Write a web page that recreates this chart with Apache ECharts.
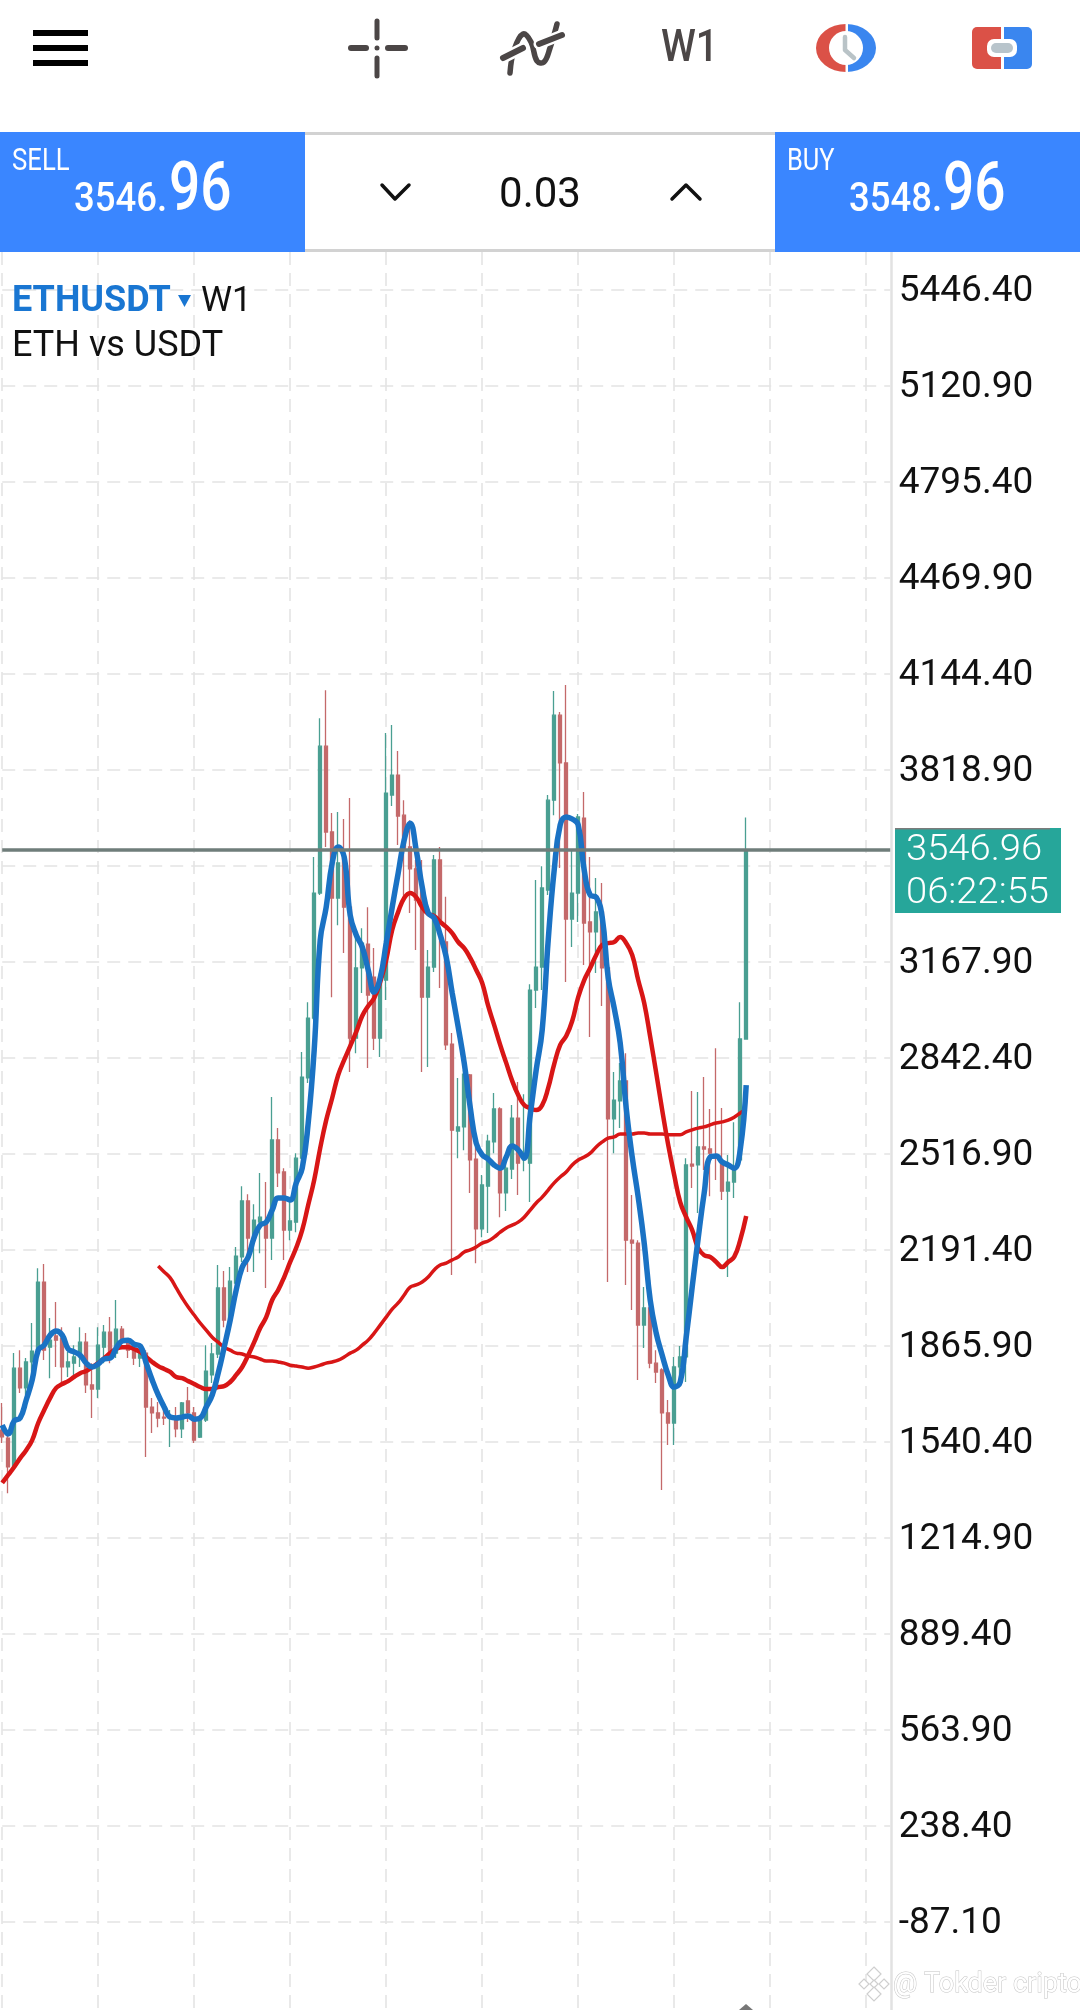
<!DOCTYPE html>
<html>
<head>
<meta charset="utf-8">
<style>html,body{margin:0;padding:0;background:#fff}#c{width:1080px;height:2010px}</style>
<script src="https://cdn.jsdelivr.net/npm/echarts@6/dist/echarts.min.js"></script>
</head>
<body>
<div id="c"></div>
<script>
const opens = [
1579,1552,1454,1789,1722,1810,1850,2081,1860,1898,
1891,1793,1806,1827,1877,1732,1718,1860,1911,1840,
1921,1884,1850,1823,1840,1657,1637,1623,1620,1623,
1583,1678,1637,1555,1613,1766,1837,2061,1952,2077,
2166,2356,2230,2284,2281,2230,2563,2454,2257,2284,
2501,2773,2976,3400,3898,3607,3383,3519,3352,2908,
3146,3227,3115,2908,3105,3732,3800,3664,3556,3482,
3420,3047,3149,3512,3234,2888,2593,2607,2783,2498,
2261,2406,2556,2668,2383,2464,2637,2495,2484,3071,
3149,3410,3715,4003,3841,3312,3400,3654,3302,3268,
3336,3146,2634,2695,2763,2223,2213,1935,1993,1806,
1783,1637,1603,1793,1827,2481,2478,2539,2532,2512,
2484,2389,2420,2495,2905];
const closes = [
1556,1454,1789,1722,1810,1847,2081,1850,1884,1884,
1793,1810,1827,1877,1732,1718,1867,1911,1823,1921,
1877,1850,1823,1840,1657,1637,1620,1620,1623,1583,
1671,1637,1545,1613,1779,1837,2061,1952,2084,2169,
2356,2230,2291,2301,2230,2563,2451,2257,2288,2501,
2776,2976,3400,3898,3607,3383,3502,3352,2908,3146,
3230,3054,2908,3105,3739,3800,3661,3546,3482,3376,
3047,3149,3512,3308,2885,2596,2607,2786,2495,2261,
2410,2559,2668,2383,2467,2637,2484,2505,3071,3149,
3417,3715,4003,3841,3312,3400,3658,3298,3268,3336,
3146,2634,2698,2763,2223,2213,1935,1993,1806,1776,
1637,1603,1793,1827,2478,2474,2539,2532,2518,2501,
2389,2420,2461,2905,3546.96];
const lows = [
1535,1365,1444,1705,1698,1749,1827,1817,1755,1793,
1739,1759,1759,1793,1705,1620,1688,1806,1806,1823,
1860,1823,1800,1793,1488,1569,1589,1596,1522,1555,
1552,1606,1535,1552,1606,1739,1823,1928,1918,2054,
2149,2115,2115,2179,2061,2156,2403,2156,2223,2250,
2471,2756,2969,3393,3556,3047,3291,3197,2793,2857,
3061,2807,2868,2844,3037,3695,3563,3376,3332,3207,
2793,2810,3132,3078,2868,2105,2501,2528,2383,2145,
2233,2247,2518,2301,2322,2430,2376,2457,2352,3010,
3071,3393,3664,3485,3098,3217,3302,3156,2912,3129,
3017,2081,2518,2603,2071,1986,1749,1857,1789,1739,
1376,1528,1528,1739,1742,2400,2315,2461,2372,2427,
2359,2098,2366,2490,2905];
const highs = [
1671,1569,1840,1850,1823,1942,2128,2142,1959,2013,
1928,1844,1867,1928,1908,1806,1928,1935,1962,2020,
1932,1891,1860,1874,1850,1688,1674,1657,1647,1657,
1674,1725,1657,1630,1867,1874,2139,2118,2132,2200,
2406,2379,2345,2451,2420,2708,2603,2467,2359,2518,
2861,3030,3522,3993,4088,3671,3675,3651,3722,3251,
3281,3352,3214,3129,3943,3970,3882,3715,3647,3512,
3512,3207,3529,3556,3387,2925,2773,2800,2786,2539,
2444,2580,2722,2674,2484,2681,2759,2718,3091,3444,
3491,3732,4085,4014,4105,3546,3668,3743,3522,3451,
3434,3153,2793,2824,2857,2376,2223,2064,2088,1850,
1789,1681,1827,1864,2501,2729,2725,2776,2668,2874,
2671,2512,2623,3030,3656];
const blueMA = [
1596,1566,1610,1620,1681,1749,1850,1867,1901,1915,
1901,1854,1844,1833,1806,1793,1803,1820,1823,1857,
1881,1884,1870,1864,1806,1749,1698,1657,1623,1620,
1623,1627,1616,1620,1657,1698,1772,1860,1952,2054,
2131,2166,2233,2274,2284,2325,2366,2366,2359,2417,
2467,2620,2868,3240,3352,3502,3556,3522,3325,3258,
3217,3139,3064,3112,3230,3352,3468,3580,3637,3546,
3420,3332,3315,3258,3183,3061,2946,2824,2674,2552,
2512,2498,2478,2467,2505,2542,2529,2501,2647,2800,
2936,3240,3478,3631,3658,3651,3631,3478,3393,3386,
3318,3112,3010,2891,2671,2505,2369,2213,2020,1908,
1833,1766,1725,1742,1894,2064,2230,2383,2505,2508,
2488,2478,2467,2529,2749];
const redMA = [
1400,1427,1454,1484,1511,1545,1603,1647,1688,1722,
1735,1745,1759,1772,1779,1793,1806,1823,1840,1854,
1860,1860,1854,1844,1827,1810,1796,1786,1776,1759,
1755,1745,1735,1725,1718,1718,1725,1728,1742,1766,
1793,1833,1877,1925,1962,2020,2054,2098,2149,2197,
2257,2342,2427,2535,2630,2705,2783,2834,2881,2929,
2983,3017,3044,3098,3173,3275,3336,3383,3400,3386,
3352,3329,3322,3302,3285,3264,3234,3213,3180,3139,
3095,3017,2952,2885,2824,2763,2715,2681,2671,2664,
2681,2739,2820,2885,2915,2966,3047,3105,3146,3190,
3224,3230,3234,3251,3230,3190,3105,3027,2912,2790,
2664,2546,2444,2352,2301,2257,2196,2172,2166,2149,
2132,2149,2166,2223,2305];
const longMA = [
null,null,null,null,null,null,null,null,null,null,
null,null,null,null,null,null,null,null,null,null,
null,null,null,null,null,null,2135,2115,2095,2061,
2027,1996,1969,1942,1918,1894,1877,1860,1850,1840,
1837,1830,1827,1820,1813,1813,1810,1806,1799,1796,
1793,1789,1793,1799,1806,1810,1816,1827,1840,1850,
1867,1884,1908,1935,1962,1989,2010,2037,2064,2071,
2081,2098,2122,2139,2145,2156,2166,2183,2190,2200,
2213,2220,2233,2250,2264,2274,2284,2301,2325,2349,
2369,2393,2417,2437,2454,2478,2495,2505,2518,2539,
2556,2569,2573,2583,2583,2583,2586,2586,2583,2583,
2583,2580,2580,2580,2590,2597,2603,2607,2614,2620,
2624,2630,2640,2654,2668];
const tickValues = [-87.1,238.4,563.9,889.4,1214.9,1540.4,1865.9,2191.4,2516.9,2842.4,3167.9,3493.4,3818.9,4144.4,4469.9,4795.4,5120.9,5446.4];
const lastPrice = 3546.96;
const askPrice = 3548.96;
const countdown = '06:22:55';
const lotSize = '0.03';
const symbol = 'ETHUSDT';
const timeframe = 'W1';
const description = 'ETH vs USDT';
const SLOTS = 149;

const UP = '#4a9f92', DOWN = '#c4696a', FONT = 'Roboto, sans-serif';
const weeks = Array.from({length: SLOTS}, (_, i) => 'W' + i);
const candles = opens.map((o, i) => [o, closes[i], lows[i], highs[i]]);
const TEXT_DY = 3;

function txt(text, x, y, size, fill, o) {
  o = o || {};
  return {type: 'text', z: 100, x, y: y + TEXT_DY, scaleX: o.sx || 1,
    style: {text, x: 0, y: 0, fill, textAlign: o.align || 'left', textVerticalAlign: 'middle',
      font: (o.w || 400) + ' ' + size + 'px ' + FONT, stroke: o.stroke, lineWidth: o.lw || 0}};
}
function rect(x, y, w, h, fill, r) {
  return {type: 'rect', z: 100, shape: {x, y, width: w, height: h, r: r || 0}, style: {fill}};
}
function seg(x1, y1, x2, y2, stroke, lw) {
  return {type: 'line', z: 100, shape: {x1, y1, x2, y2}, style: {stroke, lineWidth: lw, lineCap: 'round'}};
}
function poly(points, stroke, lw, smooth) {
  return {type: 'polyline', z: 100, shape: {points, smooth: smooth || 0}, style: {stroke, lineWidth: lw, fill: 'none', lineCap: 'round', lineJoin: 'round'}};
}
function diamond(cx, cy, r, stroke) {
  return {type: 'polygon', z: 100, shape: {points: [[cx, cy - r], [cx + r, cy], [cx, cy + r], [cx - r, cy]]}, style: {fill: '#fff', stroke, lineWidth: 1.2}};
}
const DARK = '#4b4646', RED = '#db5147', BLUE = '#3a86ef', PANEL = '#3a86ff';
function priceParts(v) { const s = v.toFixed(2).split('.'); return [s[0] + '.', s[1]]; }
const sell = priceParts(lastPrice), buy = priceParts(askPrice);

const graphics = [
  rect(33, 30, 55, 6, '#000'), rect(33, 45, 55, 6, '#000'), rect(33, 60, 55, 6, '#000'),
  seg(377, 21, 377, 38, DARK, 5), seg(377, 58, 377, 76, DARK, 5),
  seg(351, 48, 366, 48, DARK, 6), seg(388, 48, 405, 48, DARK, 6),
  {type: 'circle', z: 100, shape: {cx: 377, cy: 48, r: 2.5}, style: {fill: DARK}},
  poly([[510, 73], [514, 50], [523, 34], [531, 42], [537, 61], [544, 62], [550, 48], [557, 24]], DARK, 5.5, 0.4),
  seg(503, 58, 523, 48, '#fff', 11), seg(539, 44, 562, 35, '#fff', 11),
  seg(503, 58, 523, 48, DARK, 6), seg(539, 44, 562, 35, DARK, 6),
  txt(timeframe, 661, 47, 45, DARK, {sx: 0.88, w: 500}),
  {type: 'sector', z: 100, x: 846, y: 48, scaleY: 0.8, shape: {cx: 0, cy: 0, r: 30, r0: 0, startAngle: Math.PI / 2, endAngle: Math.PI * 1.5}, style: {fill: RED}},
  {type: 'sector', z: 100, x: 846, y: 48, scaleY: 0.8, shape: {cx: 0, cy: 0, r: 30, r0: 0, startAngle: -Math.PI / 2, endAngle: Math.PI / 2}, style: {fill: BLUE}},
  {type: 'circle', z: 100, shape: {cx: 846, cy: 48, r: 17}, style: {fill: '#fff'}},
  rect(845.5, 22, 2.5, 52, '#fff'),
  poly([[845, 37], [845, 50], [854, 58]], '#b9c3c7', 4.5),
  rect(972, 27, 29, 42, RED, [5, 0, 0, 5]), rect(1004, 27, 28, 42, BLUE, [0, 5, 5, 0]),
  rect(987, 39, 30, 18, '#fff', 7), rect(991, 43, 22, 10, '#b8c4cb', 5),
  rect(305, 132, 470, 120, '#fff'),
  rect(305, 132, 470, 3, '#d2d2d2'), rect(305, 249, 470, 3, '#d2d2d2'),
  rect(0, 132, 305, 120, PANEL), rect(775, 132, 305, 120, PANEL),
  txt('SELL', 12, 159, 31, '#fff', {sx: 0.83}),
  txt(sell[0], 74, 198, 41, '#fff', {sx: 0.89, w: 500}),
  txt(sell[1], 169, 190, 68, '#fff', {sx: 0.81, w: 500}),
  txt('BUY', 787, 159, 31, '#fff', {sx: 0.82}),
  txt(buy[0], 849, 198, 41, '#fff', {sx: 0.89, w: 500}),
  txt(buy[1], 943, 190, 68, '#fff', {sx: 0.81, w: 500}),
  poly([[382, 185], [395, 199], [409, 185]], '#111', 3.5),
  txt(lotSize, 540, 193, 42, '#111', {align: 'center'}),
  poly([[672, 199], [686, 185], [700, 199]], '#111', 3.5),
  txt(symbol, 12, 299, 36, '#1976d2', {w: 700}),
  {type: 'polygon', z: 100, shape: {points: [[178, 295], [191, 295], [184.5, 307]]}, style: {fill: '#1976d2'}},
  txt(timeframe, 201, 299, 35, '#111'),
  txt(description, 12, 344, 36, '#111'),
  rect(895, 828, 166, 85, '#26a69a'),
  rect(895, 828, 155, 1.5, '#7b7b7b'),
  txt(lastPrice.toFixed(2), 906, 848, 36, '#fff', {sx: 1.06, w: 300}),
  txt(countdown, 906, 891, 36, '#fff', {sx: 1.06, w: 300}),
  {type: 'polygon', z: 100, shape: {points: [[739, 2010], [746, 2004], [753, 2010]]}, style: {fill: '#777'}},
  diamond(874, 1974, 7, '#cfcfcf'), diamond(864, 1984, 5, '#cfcfcf'), diamond(884, 1984, 5, '#cfcfcf'),
  diamond(874, 1984, 4, '#cfcfcf'), diamond(874, 1994, 7, '#cfcfcf'),
  txt('@ Tokder cripto', 893, 1982, 27, '#fff', {stroke: '#c4c4c4', lw: 1})
];

const chart = echarts.init(document.getElementById('c'), null, {renderer: 'canvas', width: 1080, height: 2010});
chart.setOption({
  animation: false,
  backgroundColor: '#fff',
  graphic: graphics,
  grid: {left: 2.2, width: 888, top: 252, height: 1758, containLabel: false},
  xAxis: {
    type: 'category', data: weeks, boundaryGap: false,
    axisLine: {show: false}, axisTick: {show: false}, axisLabel: {show: false},
    splitLine: {show: true, interval: 15, lineStyle: {color: '#e4e4e4', width: 1.6, type: [13, 8]}}
  },
  yAxis: {
    type: 'value', position: 'right', offset: 1.5, min: -387.4, max: 5573.6, scale: true,
    axisLine: {show: true, lineStyle: {color: '#e2e2e2', width: 2.5}},
    axisTick: {show: false, customValues: tickValues},
    axisLabel: {show: true, customValues: tickValues, align: 'left', margin: 7, color: '#111', fontFamily: FONT, fontSize: 37,
      verticalAlign: 'top', lineHeight: 5, formatter: v => v.toFixed(2), showMinLabel: true, showMaxLabel: true},
    splitLine: {show: true, lineStyle: {color: '#e4e4e4', width: 1.6, type: [13, 8]}}
  },
  series: [
    {
      type: 'candlestick', data: candles, barWidth: 3, clip: false,
      itemStyle: {color: UP, color0: DOWN, borderColor: UP, borderColor0: DOWN, borderWidth: 1.3},
      markLine: {
        silent: true, symbol: 'none', animation: false, label: {show: false},
        lineStyle: {color: '#6f7d7a', width: 3.5, type: 'solid'},
        data: [{yAxis: lastPrice}]
      },
      z: 2
    },
    {type: 'line', data: longMA, showSymbol: false, smooth: 0.45, connectNulls: false, clip: false, lineStyle: {color: '#d81616', width: 3.5}, z: 3},
    {type: 'line', data: redMA, showSymbol: false, smooth: 0.45, clip: false, lineStyle: {color: '#d81616', width: 4.5}, z: 3},
    {type: 'line', data: blueMA, showSymbol: false, smooth: 0.45, clip: false, lineStyle: {color: '#1a72c4', width: 5.5}, z: 4}
  ]
});
</script>
</body>
</html>
